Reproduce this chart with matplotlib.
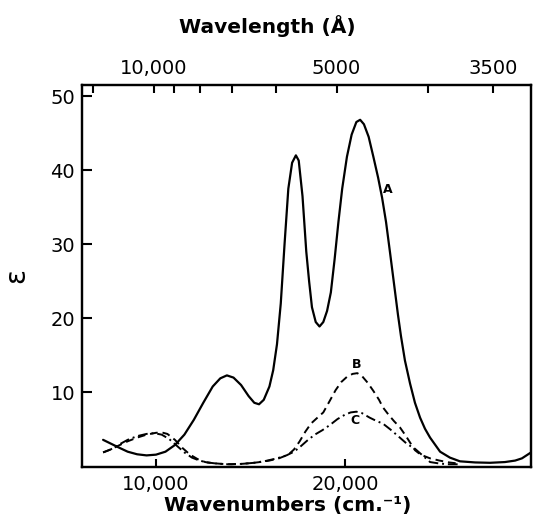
import matplotlib as mpl
import matplotlib.pyplot as plt

mpl.rcParams['figure.dpi'] = 100
mpl.rcParams['font.family'] = 'DejaVu Sans'

# curve A (solid)
wn_a = [7200, 7600, 8000, 8500, 9000, 9500, 10000, 10500, 11000, 11500,
        12000, 12500, 13000, 13400, 13750, 14100, 14500, 14900, 15200, 15450,
        15700, 16000, 16200, 16400, 16600, 16800, 17000, 17200, 17400, 17550,
        17750, 17950, 18100, 18250, 18450, 18650, 18850, 19050, 19250, 19450,
        19650, 19850, 20100, 20350, 20600, 20800, 21000, 21250, 21500, 21750,
        21960, 22170, 22380, 22590, 22800, 22960, 23170, 23440, 23700, 23970,
        24230, 24500, 25030, 25550, 26080, 26880, 27670, 28460, 29000, 29360,
        29840]
eps_a = [3.6, 3.1, 2.6, 2.0, 1.65, 1.5, 1.6, 2.0, 2.9, 4.3,
         6.3, 8.6, 10.8, 11.9, 12.3, 12.0, 11.0, 9.5, 8.6, 8.4,
         9.0, 10.8, 13.0, 16.5, 22.0, 30.0, 37.5, 41.0, 42.0, 41.3,
         36.5, 29.0, 25.0, 21.5, 19.5, 18.9, 19.5, 21.0, 23.5, 28.0,
         33.0, 37.5, 41.8, 44.8, 46.5, 46.8, 46.2, 44.5, 41.8, 39.0,
         36.3, 33.0, 28.9, 24.7, 20.5, 17.6, 14.3, 11.2, 8.6, 6.6,
         5.1, 3.9, 2.0, 1.2, 0.7, 0.55, 0.5, 0.6, 0.8, 1.1,
         1.9]

# curve B (dashed)
wn_b = [7200, 7600, 8000, 8500, 9000, 9500, 10000, 10300, 10600, 11000,
        11400, 11800, 12200, 12600, 13000, 13500, 14000, 14500, 15000, 15500,
        16000, 16500, 17000, 17300, 17600, 17900, 18200, 18500, 18850, 19200,
        19500, 19800, 20100, 20400, 20650, 20900, 21200, 21500, 21800, 22000,
        22300, 22600, 22900, 23200, 23500, 23700, 24000, 24500, 25000, 25500,
        26000]
eps_b = [1.9, 2.3, 2.8, 3.4, 3.9, 4.3, 4.55, 4.6, 4.4, 3.6,
         2.5, 1.6, 1.0, 0.6, 0.45, 0.35, 0.3, 0.35, 0.45, 0.6,
         0.8, 1.1, 1.6, 2.3, 3.4, 4.7, 5.8, 6.5, 7.3, 8.9,
         10.3, 11.4, 12.1, 12.5, 12.6, 12.2, 11.3, 10.2, 9.0, 8.0,
         7.0, 6.1, 5.3, 4.2, 3.0, 2.2, 1.6, 1.1, 0.8, 0.55,
         0.4]

# curve C (dash-dot)
wn_c = [7200, 7600, 8000, 8500, 9000, 9500, 9900, 10300, 10700, 11100,
        11500, 11900, 12300, 12700, 13200, 13800, 14500, 15200, 15800, 16400,
        16900, 17300, 17600, 18000, 18400, 18800, 19200, 19600, 20000, 20300,
        20600, 20900, 21300, 21700, 22000, 22400, 22900, 23300, 23700, 24100,
        24500, 25000, 25500, 26000]
eps_c = [1.9, 2.3, 2.9, 3.6, 4.1, 4.4, 4.5, 4.3, 3.7, 2.8,
         1.9, 1.2, 0.8, 0.55, 0.4, 0.3, 0.35, 0.5, 0.75, 1.1,
         1.5, 2.0, 2.6, 3.5, 4.3, 4.9, 5.6, 6.4, 7.0, 7.3,
         7.4, 7.2, 6.6, 6.1, 5.8, 5.0, 3.9, 3.0, 2.4, 1.5,
         0.6, 0.4, 0.3, 0.3]

x_ticks = [10000, 20000]
x_labels = ['10,000', '20,000']
y_ticks = [10, 20, 30, 40, 50]
wl_major = [10000, 5000, 3500]
wl_major_labels = ['10,000', '5000', '3500']
wl_minor = [15000, 9000, 8000, 7000, 6000, 4000]


def wl_to_pos(wl):
    # top scale as printed is slightly compressed against the bottom one
    return 236 + 0.9658 * 1e8 / wl


fig = plt.figure(figsize=(5.34, 5.21))
ax = fig.add_axes([0.1536, 0.1046, 0.8408, 0.7323])

ax.plot(wn_a, eps_a, color='black', linewidth=1.6, solid_capstyle='round')
ax.plot(wn_b, eps_b, color='black', linewidth=1.4, linestyle=(0, (4, 2.5)))
ax.plot(wn_c, eps_c, color='black', linewidth=1.4, linestyle=(0, (5, 2, 1, 2)))

ax.text(22280, 37.4, 'A', fontsize=9, fontweight='bold', ha='center', va='center')
ax.text(20630, 13.8, 'B', fontsize=9, fontweight='bold', ha='center', va='center')
ax.text(20530, 6.2, 'C', fontsize=9, fontweight='bold', ha='center', va='center')

ax.set_xlim(6085, 29840)
ax.set_ylim(0, 51.5)
ax.set_xticks(x_ticks)
ax.set_xticklabels(x_labels)
ax.set_yticks(y_ticks)
ax.tick_params(direction='in', length=7, width=1.5, labelsize=14, pad=5)
ax.tick_params(axis='x', length=6, pad=6)
for s in ax.spines.values():
    s.set_linewidth(1.6)

ax.set_xlabel('Wavenumbers (cm.⁻¹)', fontsize=14.5, fontweight='bold')
ax.xaxis.set_label_coords(0.459, -0.078)
ax.set_ylabel('ε', fontsize=20)
ax.yaxis.set_label_coords(-0.115, 0.5)

# wavelength scale on top
top = ax.twiny()
top.set_xlim(ax.get_xlim())
top.set_xticks([wl_to_pos(w) for w in wl_major])
top.set_xticklabels(wl_major_labels)
top.set_xticks([wl_to_pos(w) for w in wl_minor], minor=True)
top.tick_params(which='both', direction='in', length=6, width=1.5, labelsize=14, pad=5)
top.set_xlabel('Wavelength (Å)', fontsize=14.5, fontweight='bold', labelpad=8)
top.xaxis.set_label_coords(0.412, 1.135)
for s in top.spines.values():
    s.set_linewidth(1.6)

plt.savefig('out.png', dpi=100)
